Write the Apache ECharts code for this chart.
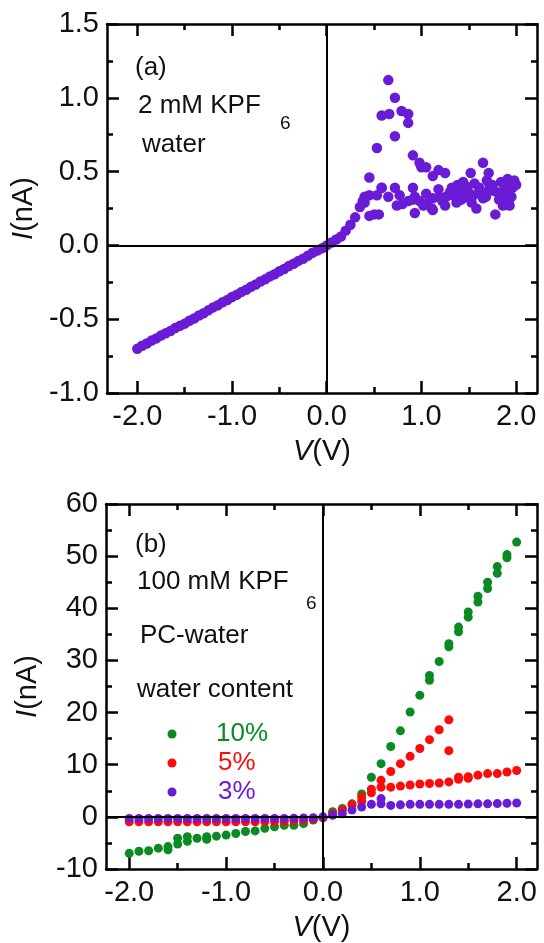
<!DOCTYPE html>
<html>
<head>
<meta charset="utf-8">
<script src="https://cdn.jsdelivr.net/npm/echarts@6/dist/echarts.min.js"></script>
<style>
html,body{margin:0;padding:0;background:#fff;}
#c{width:544px;height:943px;}
</style>
</head>
<body>
<div id="c"></div>
<script>
// ---------- Panel (a): 2 mM KPF6, water ----------
const aV = [-2.00,-1.95,-1.90,-1.85,-1.80,-1.75,-1.70,-1.65,-1.60,-1.55,-1.50,-1.45,-1.40,-1.35,-1.30,-1.25,-1.20,-1.15,-1.10,-1.05,
  -1.00,-0.95,-0.90,-0.85,-0.80,-0.75,-0.70,-0.65,-0.60,-0.55,-0.50,-0.45,-0.40,-0.35,-0.30,-0.25,-0.20,-0.15,-0.10,-0.05,0.00,
  0.05,0.10,0.15,0.20,0.25,0.30,0.35,0.38,0.40,0.45,0.50,0.55,0.45,0.53,0.58,
  0.45,0.53,0.58,0.66,0.65,0.72,0.72,0.79,0.86,0.86,0.91,0.98,1.00,1.05,1.12,1.18,1.25,
  0.58,0.72,0.77,0.65,0.74,0.80,0.86,0.91,0.93,0.93,0.98,1.05,1.05,1.11,1.12,1.12,1.18,1.19,1.25,1.26,1.32,1.33,1.37,1.38,1.40,
  1.44,1.46,1.49,1.52,1.53,1.56,1.58,1.61,1.65,1.65,1.69,1.71,1.72,1.75,1.78,1.80,1.84,1.86,1.87,1.90,1.91,1.92,1.93,1.96,1.98,2.00,
  0.40,0.91,1.02,1.22,1.30,1.42,1.47,1.55,1.63,1.68,1.76,1.82,1.88,1.95];
const aI = [-0.70,-0.68,-0.665,-0.645,-0.63,-0.61,-0.595,-0.58,-0.56,-0.545,-0.53,-0.51,-0.495,-0.475,-0.46,-0.44,-0.42,-0.405,-0.385,-0.37,
  -0.35,-0.335,-0.315,-0.30,-0.28,-0.265,-0.245,-0.23,-0.21,-0.195,-0.175,-0.16,-0.14,-0.125,-0.105,-0.09,-0.07,-0.05,-0.035,-0.02,0.00,
  0.02,0.04,0.06,0.10,0.14,0.19,0.26,0.30,0.33,0.20,0.21,0.21,0.34,0.34,0.39,
  0.46,0.66,0.88,0.89,1.12,1.00,0.74,0.91,0.89,0.83,0.61,0.56,0.53,0.53,0.47,0.51,0.49,
  0.39,0.39,0.34,0.33,0.27,0.28,0.30,0.39,0.33,0.22,0.30,0.35,0.28,0.25,0.24,0.32,0.38,0.33,0.27,0.33,0.39,0.34,0.29,0.41,0.36,
  0.43,0.33,0.37,0.49,0.29,0.42,0.25,0.39,0.56,0.32,0.44,0.49,0.39,0.41,0.21,0.36,0.43,0.27,0.35,0.41,0.45,0.30,0.27,0.39,0.44,0.41,
  0.29,0.31,0.27,0.30,0.36,0.31,0.40,0.34,0.36,0.33,0.37,0.31,0.38,0.33];

// ---------- Panel (b): 100 mM KPF6, PC-water ----------
const b10V = [-2.0,-1.9,-1.8,-1.7,-1.6,-1.6,-1.5,-1.5,-1.4,-1.4,-1.3,-1.2,-1.2,-1.1,-1.0,-0.9,-0.8,-0.7,-0.6,-0.5,-0.4,-0.3,-0.2,-0.1,0.0,
  0.1,0.2,0.3,0.4,0.5,0.6,0.7,0.8,0.9,1.0,1.1,1.1,1.2,1.3,1.3,1.4,1.4,1.5,1.5,1.6,1.6,1.7,1.7,1.8,1.8,1.9,1.9,2.0];
const b10I = [-7.0,-6.6,-6.5,-6.0,-6.3,-5.7,-5.2,-4.1,-4.7,-3.8,-4.1,-4.3,-3.8,-3.7,-3.5,-3.2,-2.8,-2.7,-2.2,-1.9,-1.6,-1.6,-1.3,-0.6,-0.1,
  1.0,1.6,2.5,4.4,7.6,10.2,13.5,16.5,20.1,23.3,26.2,27.1,29.8,32.6,33.2,35.5,36.4,38.3,39.3,41.2,42.3,43.8,45.0,46.7,48.0,49.7,50.3,52.7];

const b5V = [-2.0,-1.9,-1.8,-1.7,-1.6,-1.5,-1.4,-1.3,-1.2,-1.1,-1.0,-0.9,-0.8,-0.7,-0.6,-0.5,-0.4,-0.3,-0.2,-0.1,0.0,
  0.1,0.2,0.3,0.4,0.4,0.5,0.5,0.6,0.6,0.7,0.7,0.8,0.8,0.9,0.9,1.0,1.0,1.1,1.1,1.2,1.2,1.3,1.3,1.3,1.4,1.4,1.5,1.5,1.6,1.7,1.8,1.9,2.0];
const b5I = [-0.95,-0.95,-0.95,-0.95,-0.95,-0.95,-0.95,-0.95,-0.95,-0.95,-0.95,-0.95,-0.95,-0.95,-0.9,-0.9,-0.85,-0.75,-0.6,-0.45,-0.2,
  0.6,1.3,2.3,3.0,3.8,4.6,5.3,5.7,7.0,5.7,8.7,5.9,10.2,6.1,11.6,6.3,13.1,6.4,14.8,6.5,16.7,6.7,12.7,18.6,7.2,7.6,7.4,7.7,8.0,8.3,8.3,8.6,8.9];

const b3V = [-2.0,-1.9,-1.8,-1.7,-1.6,-1.5,-1.4,-1.3,-1.2,-1.1,-1.0,-0.9,-0.8,-0.7,-0.6,-0.5,-0.4,-0.3,-0.2,-0.1,0.0,
  0.1,0.2,0.3,0.4,0.5,0.6,0.6,0.7,0.8,0.9,1.0,1.1,1.2,1.3,1.4,1.5,1.6,1.7,1.8,1.9,2.0];
const b3I = [-0.3,-0.3,-0.3,-0.3,-0.3,-0.3,-0.3,-0.3,-0.3,-0.3,-0.3,-0.3,-0.3,-0.3,-0.3,-0.3,-0.3,-0.25,-0.2,-0.15,0.0,
  0.3,0.6,1.3,1.9,2.4,2.5,3.5,2.2,2.3,2.4,2.4,2.4,2.4,2.4,2.4,2.45,2.5,2.5,2.55,2.6,2.65];

// tick values
const xMajor = [-2, -1, 0, 1, 2];
const xMinor = [-1.5, -0.5, 0.5, 1.5];
const legendNames = ['10%', '5%', '3%'];

const PURPLE = '#6a1bd5', GREEN = '#0a8a22', RED = '#ff0a0a';
const FONT = '"Liberation Sans", Arial, sans-serif';
const zip = (xs, ys) => xs.map((x, i) => [x, ys[i]]);

const gridA = {left: 107, top: 24, width: 430, height: 369};
const gridB = {left: 106, top: 504, width: 431, height: 369};
const xRanges = [[-2.32, 2.22], [-2.24, 2.21]];
const yRanges = [[-1, 1.5, 0.5], [-10, 60, 10]];

const axLine = {show: true, onZero: false, lineStyle: {color: '#000', width: 2.5}};
const LBL = 29;
const xAxes = [], yAxes = [];
[0, 1].forEach(g => {
  const [mn, mx] = xRanges[g];
  ['bottom', 'top'].forEach(pos => {
    xAxes.push({
      type: 'value', gridIndex: g, position: pos, min: mn, max: mx,
      axisLine: axLine, splitLine: {show: false},
      axisTick: {show: true, inside: true, length: 12, lineStyle: {color: '#000', width: 2.5}, customValues: xMajor},
      axisLabel: pos === 'bottom' ? {show: true, customValues: xMajor, fontSize: LBL, fontFamily: FONT, color: '#111', margin: 9,
        formatter: v => v.toFixed(1)} : {show: false},
      name: pos === 'bottom' ? '{i|V}(V)' : '',
      nameLocation: 'middle', nameGap: 44,
      nameTextStyle: {fontSize: LBL, fontFamily: FONT, color: '#111', rich: {i: {fontStyle: 'italic', fontSize: LBL, fontFamily: FONT, color: '#111'}}}
    });
    xAxes.push({
      type: 'value', gridIndex: g, position: pos, min: mn, max: mx,
      axisLine: {show: false, onZero: false}, splitLine: {show: false}, axisLabel: {show: false},
      axisTick: {show: true, inside: true, length: 6, lineStyle: {color: '#000', width: 2.5}, customValues: xMinor}
    });
  });
  const [ymn, ymx, yint] = yRanges[g];
  ['left', 'right'].forEach(pos => {
    yAxes.push({
      type: 'value', gridIndex: g, position: pos, min: ymn, max: ymx, interval: yint,
      axisLine: axLine, splitLine: {show: false},
      axisTick: {show: true, inside: true, length: 12, lineStyle: {color: '#000', width: 2.5}},
      minorTick: {show: true, splitNumber: 2, length: 6, lineStyle: {color: '#000', width: 2.5}},
      axisLabel: pos === 'left' ? {show: true, fontSize: LBL, fontFamily: FONT, color: '#111', margin: 8,
        formatter: v => g === 0 ? v.toFixed(1) : String(v)} : {show: false},
      name: pos === 'left' ? '{i|I}(nA)' : '',
      nameLocation: 'middle', nameRotate: 90, nameGap: 64,
      nameTextStyle: {fontSize: LBL, fontFamily: FONT, color: '#111', rich: {i: {fontStyle: 'italic', fontSize: LBL, fontFamily: FONT, color: '#111'}}}
    });
  });
});

const zeroLines = (g) => ({
  type: 'scatter', xAxisIndex: g * 4, yAxisIndex: g * 2, data: [], z: 5, silent: true,
  markLine: {silent: true, symbol: 'none', label: {show: false}, animation: false,
    lineStyle: {color: '#000', width: 2, type: 'solid'},
    data: [{yAxis: 0}, {xAxis: 0}]}
});

const dot = (name, color, data, g, size) => ({
  type: 'scatter', name, xAxisIndex: g * 4, yAxisIndex: g * 2, data, symbol: 'circle', symbolSize: size,
  itemStyle: {color, opacity: 1}, animation: false
});

const series = [
  dot('a', PURPLE, zip(aV, aI), 0, 10.5),
  zeroLines(0),
  dot(legendNames[0], GREEN, zip(b10V, b10I), 1, 9),
  dot(legendNames[1], RED, zip(b5V, b5I), 1, 9),
  dot(legendNames[2], PURPLE, zip(b3V, b3I), 1, 9),
  zeroLines(1)
];

const tx = (x, y, text, size, color) => ({type: 'text', x, y,
  style: {text, fontSize: size, fontFamily: FONT, fill: color || '#111', verticalAlign: 'middle', align: 'left'}});
const circ = (x, y, color) => ({type: 'circle', shape: {cx: x, cy: y, r: 4.5}, style: {fill: color}});

const graphic = [
  tx(135, 68, '(a)', 26),
  tx(138, 106, '2 mM KPF', 26),
  tx(280, 124, '6', 19),
  tx(142, 145, 'water', 26),
  tx(135, 545, '(b)', 26),
  tx(137, 582, '100 mM KPF', 26),
  tx(306, 604, '6', 19),
  tx(140, 636, 'PC-water', 26),
  tx(137, 690, 'water content', 26),
  circ(172, 734, GREEN), tx(216, 734, legendNames[0], 26, GREEN),
  circ(172, 763, RED), tx(218, 763, legendNames[1], 26, RED),
  circ(172, 792, PURPLE), tx(218, 792, legendNames[2], 26, PURPLE)
];

const chart = echarts.init(document.getElementById('c'), null, {renderer: 'canvas'});
chart.setOption({
  backgroundColor: '#fff',
  animation: false,
  grid: [gridA, gridB],
  xAxis: xAxes,
  yAxis: yAxes,
  series,
  graphic
});
</script>
</body>
</html>
